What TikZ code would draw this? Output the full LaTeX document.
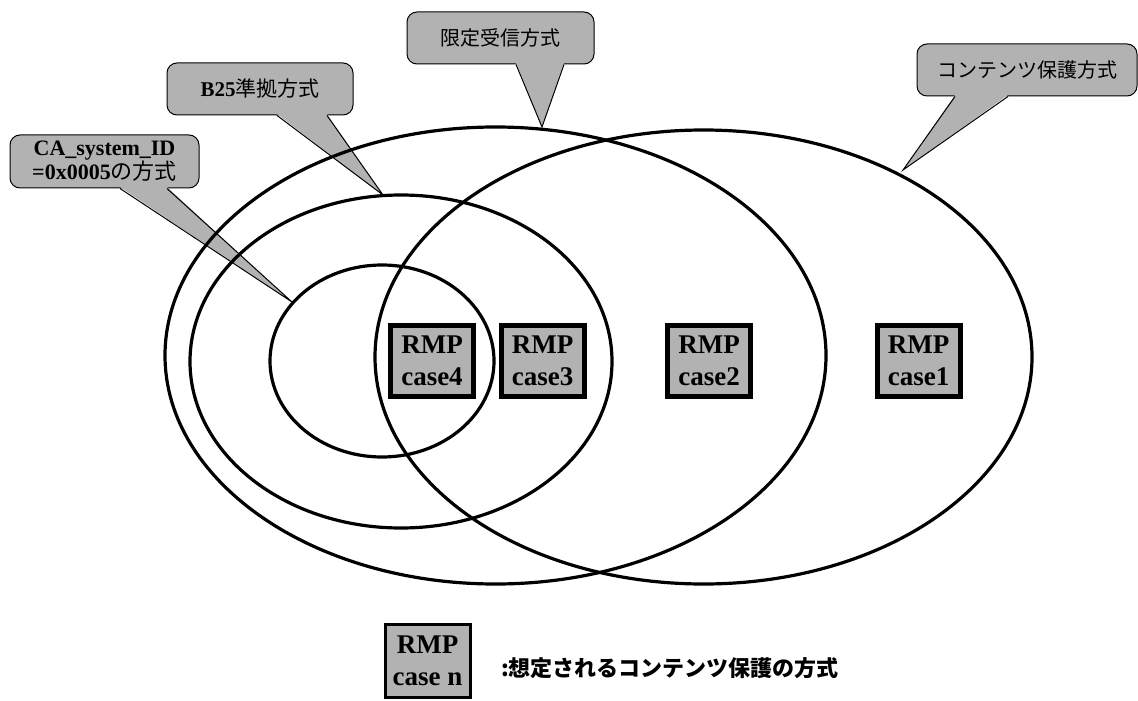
\documentclass[tikz,border=0pt]{standalone}
\usepackage{fontspec}
\setmainfont{Liberation Serif}
\newfontfamily\jp{Noto Sans CJK JP}
\usepackage{tikz}
\usetikzlibrary{calc}

\begin{document}
\begin{tikzpicture}[x=0.5pt,y=-0.5pt,
	rmp/.style={draw, line width=2.5pt, fill=black!30, minimum width=41.5pt, minimum height=35.5pt, inner sep=0pt, align=center, font=\fontsize{13.5}{16}\selectfont\bfseries},
	callout/.style={draw, line width=0.5pt, fill=black!30, rounded corners=5pt, minimum height=26pt, inner sep=0pt, align=center},
	ring/.style={line width=1.6pt}]
	\useasboundingbox (0,0) rectangle (1138,700);

	% callouts
	\node[callout, minimum width=93.5pt, font=\jp\fontsize{10}{12}\selectfont] (jg) at (500.5,38) {限定受信方式};
	\node[callout, minimum width=93pt, font=\fontsize{10.5}{12}\selectfont\bfseries] (b25) at (260,89) {B25{\jp\mdseries 準拠方式}};
	\node[callout, minimum width=94.5pt, minimum height=26.5pt, font=\fontsize{11}{12}\selectfont\bfseries] (ca) at (104.5,161.5) {CA\_system\_ID\\=0x0005{\jp\mdseries の方式}};
	\node[callout, minimum width=110pt, font=\jp\fontsize{10}{12}\selectfont] (ct) at (1027,70) {コンテンツ保護方式};
	\coordinate (jg-tip) at (542,127);
	\coordinate (b25-tip) at (383,195);
	\coordinate (ca-tip) at (292,302);
	\coordinate (ct-tip) at (903,170);
	\foreach \n/\a/\b in {jg/15.5/63.5, b25/17/67, ca/15.5/62.5, ct/-72/-19}{
		\fill[black!30] ($(\n.south)+(\a,-1.5)$) -- (\n-tip) -- ($(\n.south)+(\b,-1.5)$) -- cycle;
		\draw[line width=0.5pt] ($(\n.south)+(\a,0)$) -- (\n-tip) -- ($(\n.south)+(\b,0)$);
	}

	% sets
	\draw[ring] (495.5,355.5) ellipse [x radius=330.5, y radius=228.5];
	\draw[ring] (703.5,357) ellipse [x radius=328.5, y radius=227];
	\draw[ring] (401,361.5) ellipse [x radius=211, y radius=166.5];
	\draw[ring] (382,361) ellipse [x radius=112, y radius=96];

	% cases
	\node[rmp] (c4) at (432,361) {RMP\\case4};
	\node[rmp] (c3) at (542.5,361) {RMP\\case3};
	\node[rmp] (c2) at (709,361) {RMP\\case2};
	\node[rmp] (c1) at (918.5,360.5) {RMP\\case1};

	% legend
	\node[rmp, line width=1.5pt, minimum width=42.5pt, minimum height=36.5pt] (cn) at (427.5,661) {RMP\\case n};
	\node[anchor=west, font=\jp\bfseries\fontsize{11}{13}\selectfont] (lg) at (494,668) {:想定されるコンテンツ保護の方式};
\end{tikzpicture}
\end{document}
